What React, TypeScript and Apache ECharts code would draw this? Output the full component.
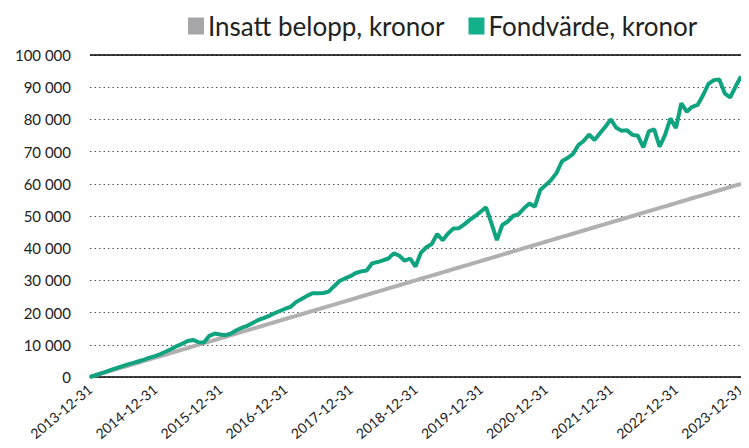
import React, { useEffect, useRef } from "react";
import * as echarts from "echarts";

const startYear = 2013;
const monthEnds = [31, 28, 31, 30, 31, 30, 31, 31, 30, 31, 30, 31];

const insatt: number[] = [];
const fondvarde: number[] = [
  0, 550, 1100, 1700, 2300, 2800, 3400, 3900, 4400, 4900, 5400, 6000,
  6500, 7100, 7900, 8700, 9600, 10300, 11200, 11500, 10800, 10700, 12800, 13500,
  13200, 13000, 13500, 14500, 15300, 15900, 16800, 17700, 18300, 19000, 19800, 20500,
  21200, 21800, 23300, 24200, 25200, 26000, 26000, 26100, 26500, 28200, 29800, 30600,
  31300, 32300, 32800, 33100, 35300, 35700, 36200, 36800, 38400, 37700, 36100, 36800,
  34300, 38600, 40300, 41300, 44400, 42500, 44600, 46100, 46200, 47400, 48800, 50000,
  51300, 52700, 47700, 42500, 47200, 48300, 50000, 50600, 52400, 53900, 52900, 58100,
  59600, 61200, 63400, 67000, 68000, 69200, 72000, 73300, 75300, 73600, 75700, 77700,
  80000, 77400, 76500, 76600, 75200, 74900, 71300, 76300, 76900, 71500, 75200, 80300,
  77300, 85000, 82400, 83900, 84500, 87500, 91000, 92200, 92400, 88100, 86800, 90200,
  93300,
];
const monthlyDeposit = 500;

const dates: string[] = [];
for (let m = 0; m < fondvarde.length; m++) {
  const mi = (11 + m) % 12;
  const y = startYear + Math.floor((11 + m) / 12);
  let d = monthEnds[mi];
  if (mi === 1 && ((y % 4 === 0 && y % 100 !== 0) || y % 400 === 0)) d = 29;
  dates.push(`${y}-${String(mi + 1).padStart(2, "0")}-${String(d).padStart(2, "0")}`);
  insatt.push(monthlyDeposit * m);
}

const fmt = (v: number) => String(v).replace(/\B(?=(\d{3})+(?!\d))/g, " ");

export default function App() {
  const ref = useRef<HTMLDivElement>(null);
  useEffect(() => {
    if (!ref.current) return;
    const chart = echarts.init(ref.current, undefined, { renderer: "svg" });
    chart.setOption({
      animation: false,
      textStyle: { fontFamily: "Lato" },
      legend: {
        left: 188,
        top: 13,
        padding: 0,
        itemWidth: 16,
        itemHeight: 17,
        itemGap: 24,
        icon: "rect",
        textStyle: { fontSize: 26, color: "#222", fontFamily: "Lato", padding: [0, 0, 0, -1] },
        data: [
          { name: "Insatt belopp, kronor", itemStyle: { color: "#a6a6a8" } },
          { name: "Fondvärde, kronor", itemStyle: { color: "#14b08a" } },
        ],
      },
      grid: {
        left: 90,
        right: 8,
        top: 55,
        bottom: 71,
        containLabel: false,
        outerBoundsMode: "none",
      },
      xAxis: {
        type: "category",
        data: dates,
        boundaryGap: false,
        axisLine: { lineStyle: { color: "#000", width: 1.5 } },
        axisTick: { show: false },
        axisLabel: {
          interval: 11,
          rotate: 40,
          fontSize: 14,
          color: "#222",
          margin: 10,
          hideOverlap: false,
        },
      },
      yAxis: {
        type: "value",
        min: 0,
        max: 100000,
        interval: 10000,
        axisLine: { show: false },
        axisTick: { show: false },
        axisLabel: { fontSize: 15, color: "#222", margin: 19, formatter: fmt },
        splitLine: { lineStyle: { type: [1.5, 3], color: "#555", width: 1 } },
      },
      series: [
        {
          name: "Insatt belopp, kronor",
          type: "line",
          data: insatt,
          showSymbol: false,
          symbol: "none",
          lineStyle: { color: "#b0b0b0", width: 4 },
          itemStyle: { color: "#a6a6a8" },
          markLine: {
            silent: true,
            symbol: "none",
            label: { show: false },
            lineStyle: { color: "#000", width: 1.5, type: "solid" },
            data: [{ yAxis: 100000 }],
          },
        },
        {
          name: "Fondvärde, kronor",
          type: "line",
          data: fondvarde,
          showSymbol: false,
          symbol: "none",
          lineStyle: { color: "#10a37f", width: 4 },
          itemStyle: { color: "#14b08a" },
        },
      ],
    });
    return () => chart.dispose();
  }, []);
  return <div ref={ref} style={{ width: 749, height: 448, margin: -8 }} />;
}
